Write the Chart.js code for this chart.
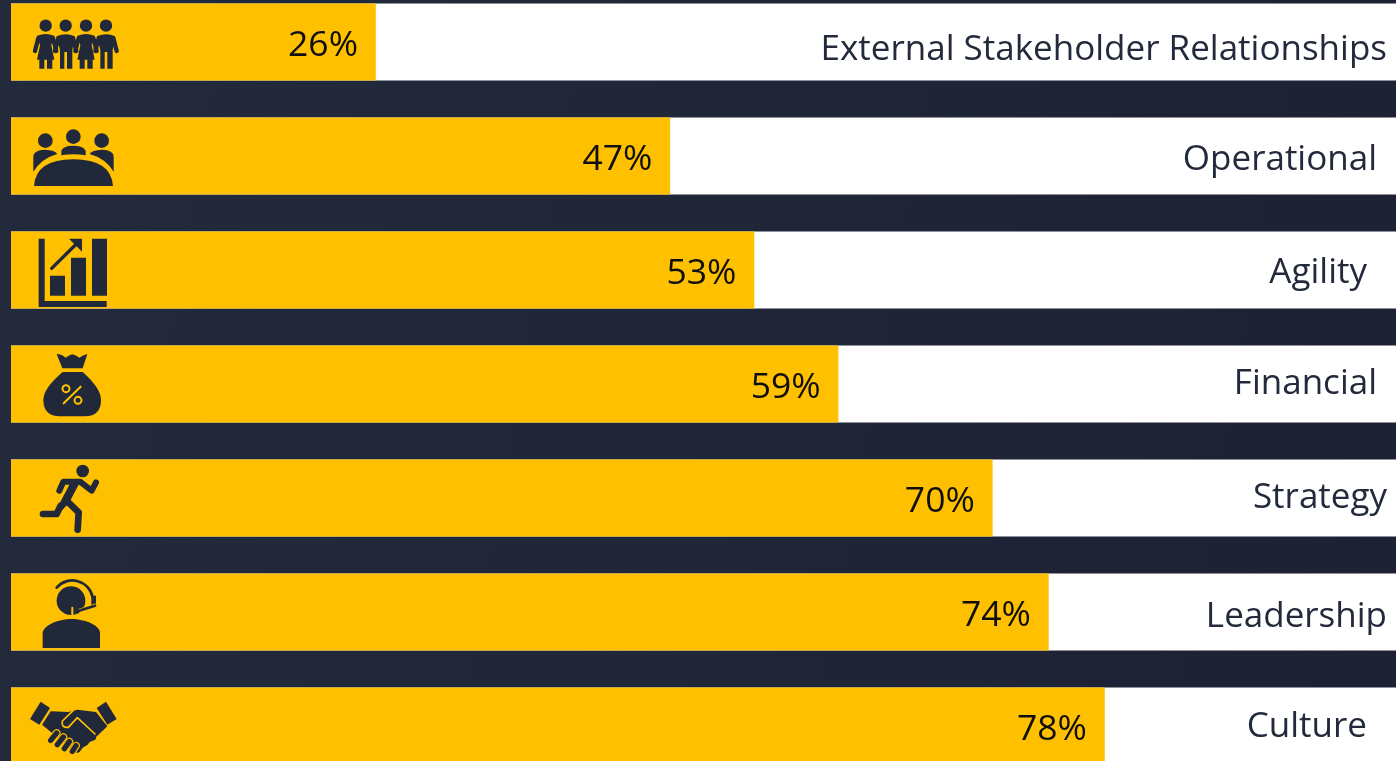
<!DOCTYPE html>
<html><head><meta charset="utf-8">
<script src="https://cdn.jsdelivr.net/npm/chart.js@4"></script>
<style>
html,body{margin:0;padding:0;width:1396px;height:761px;overflow:hidden;background:linear-gradient(100deg,#232a3c,#1c2233);}
canvas{position:absolute;left:0;top:-15px;display:block;}
</style></head><body>
<canvas id="c" width="1396" height="798"></canvas>
<script>
const categories = ["External Stakeholder Relationships","Operational","Agility","Financial","Strategy","Leadership","Culture"];
const scores = [26,47,53,59,70,74,78];
const track = [100,100,100,100,100,100,100];
const labelRightInset = [9,19,29,19,9,9,29];
const labelDrop = [8,4,3,0,0,5,1];

const INK = '#212839', AMBER = '#FFC000';

function P(ctx,d,fill){ctx.fillStyle=fill||INK;ctx.fill(new Path2D(d));}
function S(ctx,d,w,col){ctx.strokeStyle=col||INK;ctx.lineWidth=w;ctx.lineCap='round';ctx.lineJoin='round';ctx.stroke(new Path2D(d));}
function C(ctx,x,y,r,fill){ctx.fillStyle=fill||INK;ctx.beginPath();ctx.arc(x,y,r,0,Math.PI*2);ctx.fill();}

// Icons are sketched in 3x crop units; cy = icon's reference bar centre in those units
const icons = [
 {cy:125,draw(c){
   [[137,1],[197,0],[258,1],[318,0]].forEach(([x,w])=>{
     C(c,x,76,18.5);
     S(c,`M${x-22},113 L${x-32},152`,13);S(c,`M${x+22},113 L${x+32},152`,13);
     if(w){
       P(c,`M${x-25},106 Q${x},96 ${x+25},106 L${x+17},135 L${x+26},178 H${x+20} V205 H${x+4} V178 H${x-4} V205 H${x-19} V178 H${x-26} L${x-17},135 Z`);
     }else{
       P(c,`M${x-27},108 Q${x},96 ${x+27},108 L${x+20},150 V205 H${x+4} V155 H${x-4} V205 H${x-17} V150 Z`);
     }
   });
 }},
 {cy:468,draw(c){
   C(c,136,422,22);C(c,220,410,22);C(c,305,422,22);
   P(c,'M100,515 V470 Q100,450 135,449 Q165,450 172,462 Q125,475 100,515 Z');
   P(c,'M341,515 V470 Q341,450 306,449 Q276,450 269,462 Q316,475 341,515 Z');
   P(c,'M184,466 V452 Q190,437 220,437 Q250,437 257,452 V466 Q220,460 184,466 Z');
   P(c,'M102,558 Q108,478 220,478 Q333,478 339,558 Z');
 }},
 {cy:133,draw(c){
   P(c,'M116,39 H134 V226 H320 V244 H116 Z');
   P(c,'M150,150 H195 V210 H150 Z M213,96 H258 V210 H213 Z M276,39 H321 V210 H276 Z');
   S(c,'M155,128 L232,52',10);
   P(c,'M207,39 H246 V78 Z');
 }},
 {cy:477,draw(c){
   P(c,'M170,387 Q186,388 197,398 Q208,390 217,388 Q228,390 238,398 Q248,390 262,387 L248,430 H187 Z');
   P(c,'M188,441 H248 Q303,490 303,525 Q303,573 255,574 H180 Q130,573 130,525 Q130,490 188,441 Z');
   c.strokeStyle=AMBER;c.lineWidth=6;
   c.beginPath();c.arc(198,491,10.5,0,Math.PI*2);c.stroke();
   c.beginPath();c.arc(234,526,10.5,0,Math.PI*2);c.stroke();
   S(c,'M191,535 L242,485',6,AMBER);
 }},
 {cy:127,draw(c){
   C(c,248,46,19);
   S(c,'M178,105 L190,78 H240 L275,105 L288,80',18);
   P(c,'M205,70 H245 L207,142 L178,172 L170,160 L208,87 Z');
   S(c,'M205,140 L236,170 L233,222',20);
   S(c,'M182,150 L170,175 H129',20);
 }},
 {cy:469,draw(c){
   C(c,213,435,43);
   S(c,'M217,456 V482',6,AMBER);
   S(c,'M170,396 A62,62 0 0 1 278,425',8);
   P(c,'M274,420 H288 V450 L274,456 Z');
   S(c,'M285,450 L232,467',12,AMBER);
   S(c,'M285,450 L232,467',8);
   C(c,232,467,7);
   P(c,'M128,577 V530 C135,505 180,490 214,490 C250,490 295,505 300,530 V577 Z');
 }},
 {cy:139,draw(c){
   P(c,'M122,66 L150,85 L118,135 L90,118 Z');
   P(c,'M318,66 L350,118 L322,135 L290,85 Z');
   P(c,'M152,95 L205,97 L232,90 L288,97 L322,140 L288,172 Q292,182 270,186 L262,196 L248,204 L238,218 L226,220 L150,155 L126,135 Z');
   S(c,'M220,92 L187,124 Q183,145 205,143 L232,114 L285,163',5,AMBER);
   [[152,182,170,160],[172,195,190,172],[193,207,208,186],[217,215,228,198]].forEach(([a,b,d,e])=>{
     S(c,`M${a},${b} L${d},${e}`,23,AMBER);S(c,`M${a},${b} L${d},${e}`,16);
   });
 }}
];

const overlay = {
  id:'overlay',
  afterDatasetsDraw(chart){
    const c = chart.ctx, meta = chart.getDatasetMeta(1), yScale = chart.scales.y;
    meta.data.forEach((bar,i)=>{
      c.save();
      c.textBaseline = 'middle';
      c.textAlign = 'right';
      c.font = '35.5px "Open Sans"';
      c.fillStyle = '#0f0f0f';
      c.fillText(scores[i]+'%', bar.x-17.5, bar.y+4);
      c.font = '35px "Open Sans"';
      c.fillStyle = '#222a3c';
      c.fillText(categories[i], chart.chartArea.right-labelRightInset[i], yScale.getPixelForTick(i)+labelDrop[i]);
      c.restore();
      const ic = icons[i];
      c.save();
      c.translate(0, bar.y);
      c.scale(1/3,1/3);
      c.translate(0,-ic.cy);
      ic.draw(c);
      c.restore();
    });
  }
};

new Chart(document.getElementById('c'),{
  type:'bar',
  data:{labels:categories,datasets:[
    {label:'Track',data:track,backgroundColor:'#FFFFFF',order:2,barThickness:76.5,grouped:false},
    {label:'Score',data:scores,backgroundColor:AMBER,order:1,barThickness:76.5,grouped:false}
  ]},
  plugins:[overlay],
  options:{
    indexAxis:'y',responsive:false,animation:false,
    layout:{padding:{left:11,right:0,top:0,bottom:0}},
    plugins:{legend:{display:false},tooltip:{enabled:false},title:{display:false}},
    scales:{
      x:{display:false,min:0,max:98.8},
      y:{display:false}
    }
  }
});
</script>
</body></html>
